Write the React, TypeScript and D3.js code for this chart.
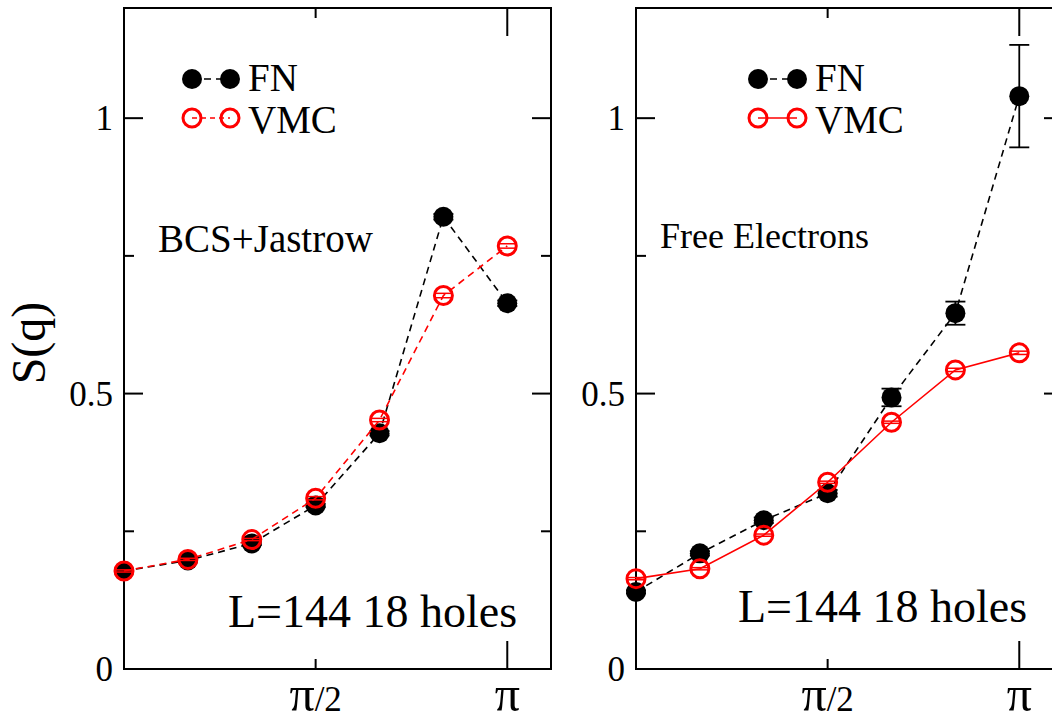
import React from 'react';
import * as d3 from 'd3';

// q points (0 .. pi in steps of pi/6)
const qValues = [0, 0.5236, 1.0472, 1.5708, 2.0944, 2.618, 3.1416];

// BCS+Jastrow panel
const bcsFN = [0.178, 0.197, 0.228, 0.297, 0.428, 0.821, 0.664];
const bcsFNErr = [0.002, 0.002, 0.003, 0.003, 0.004, 0.005, 0.005];
const bcsVMC = [0.178, 0.199, 0.235, 0.31, 0.452, 0.678, 0.768];
const bcsVMCErr = [0.002, 0.002, 0.002, 0.003, 0.003, 0.004, 0.004];

// Free electrons panel
const freeFN = [0.14, 0.21, 0.27, 0.319, 0.493, 0.646, 1.04];
const freeFNErr = [0.003, 0.004, 0.005, 0.006, 0.016, 0.021, 0.093];
const freeVMC = [0.164, 0.182, 0.243, 0.339, 0.448, 0.543, 0.574];
const freeVMCErr = [0.002, 0.002, 0.002, 0.002, 0.002, 0.003, 0.003];

const yMajor = [0, 0.5, 1];
const yMinor = [0.25, 0.75];
const yLabels = ['0', '0.5', '1'];
const xMajor = [Math.PI];
const xMinor = [Math.PI / 2];
const xLabels = [
  { q: Math.PI / 2, pi: 'π', rest: '/2' },
  { q: Math.PI, pi: 'π', rest: '' },
];

const FONT = "'Liberation Serif', 'Times New Roman', Times, serif";
const TOP = 8;
const BOTTOM = 669;
const PW = 427;

const y = d3.scaleLinear().domain([0, 1.2]).range([BOTTOM, TOP]);

const Panel = ({ left, title, titleX, titleY, titleSize, fn, fnErr, vmc, vmcErr, vmcDash, legendX, noteX, noteY }) => {
  const x = d3.scaleLinear().domain([0, 3.5]).range([left, left + PW]);
  const line = d3
    .line<number>()
    .x((d, i) => x(qValues[i]))
    .y(d => y(d));
  const right = left + PW;
  const stroke = { stroke: '#000', strokeWidth: 2 };

  return (
    <g>
      {/* frame */}
      <rect x={left} y={TOP} width={PW} height={BOTTOM - TOP} fill="none" {...stroke} />
      {/* y ticks, both sides */}
      {yMajor.map(v => (
        <g key={'ym' + v}>
          <line x1={left} x2={left + 19} y1={y(v)} y2={y(v)} {...stroke} />
          <line x1={right} x2={right - 19} y1={y(v)} y2={y(v)} {...stroke} />
        </g>
      ))}
      {yMinor.map(v => (
        <g key={'yn' + v}>
          <line x1={left} x2={left + 10} y1={y(v)} y2={y(v)} {...stroke} />
          <line x1={right} x2={right - 10} y1={y(v)} y2={y(v)} {...stroke} />
        </g>
      ))}
      {yMajor.map((v, i) => (
        <text key={'yl' + v} x={left - 11} y={y(v) + 12} textAnchor="end" fontSize={35}>
          {yLabels[i]}
        </text>
      ))}
      {/* x ticks, both sides */}
      {xMajor.map(v => (
        <g key={'xm' + v}>
          <line x1={x(v)} x2={x(v)} y1={BOTTOM} y2={BOTTOM - 28} {...stroke} />
          <line x1={x(v)} x2={x(v)} y1={TOP} y2={TOP + 28} {...stroke} />
        </g>
      ))}
      {xMinor.map(v => (
        <g key={'xn' + v}>
          <line x1={x(v)} x2={x(v)} y1={BOTTOM} y2={BOTTOM - 10} {...stroke} />
          <line x1={x(v)} x2={x(v)} y1={TOP} y2={TOP + 10} {...stroke} />
        </g>
      ))}
      {xLabels.map(l => (
        <text key={'xl' + l.q} x={x(l.q)} y={711} textAnchor="middle" fontSize={35}>
          <tspan fontSize={50}>{l.pi}</tspan>
          {l.rest}
        </text>
      ))}

      {/* FN */}
      <path d={line(fn) || ''} fill="none" stroke="#000" strokeWidth={1.6} strokeDasharray="7,5" />
      {fn.map((v, i) => (
        <g key={'fe' + i} stroke="#000" strokeWidth={1.8}>
          <line x1={x(qValues[i])} x2={x(qValues[i])} y1={y(v - fnErr[i])} y2={y(v + fnErr[i])} />
          <line x1={x(qValues[i]) - 10} x2={x(qValues[i]) + 10} y1={y(v - fnErr[i])} y2={y(v - fnErr[i])} />
          <line x1={x(qValues[i]) - 10} x2={x(qValues[i]) + 10} y1={y(v + fnErr[i])} y2={y(v + fnErr[i])} />
        </g>
      ))}
      {fn.map((v, i) => (
        <circle key={'fc' + i} cx={x(qValues[i])} cy={y(v)} r={10} fill="#000" />
      ))}

      {/* VMC */}
      <path d={line(vmc) || ''} fill="none" stroke="#f00" strokeWidth={1.6} strokeDasharray={vmcDash ? '7,5' : undefined} />
      {vmc.map((v, i) => (
        <g key={'vc' + i} stroke="#f00">
          <circle cx={x(qValues[i])} cy={y(v)} r={9} fill="none" strokeWidth={3} />
          <line x1={x(qValues[i]) - 9} x2={x(qValues[i]) + 9} y1={y(v - vmcErr[i])} y2={y(v - vmcErr[i])} strokeWidth={1.5} />
          <line x1={x(qValues[i]) - 9} x2={x(qValues[i]) + 9} y1={y(v + vmcErr[i])} y2={y(v + vmcErr[i])} strokeWidth={1.5} />
        </g>
      ))}

      {/* legend */}
      <line x1={legendX[0]} x2={legendX[1]} y1={79} y2={79} stroke="#000" strokeWidth={1.6} strokeDasharray="7,5" />
      <circle cx={legendX[0]} cy={79} r={10} fill="#000" />
      <circle cx={legendX[1]} cy={79} r={10} fill="#000" />
      <text x={legendX[1] + 18} y={91} fontSize={39}>FN</text>
      <line x1={legendX[0]} x2={legendX[1]} y1={118} y2={118} stroke="#f00" strokeWidth={1.6} strokeDasharray={vmcDash ? '5,4' : undefined} />
      <circle cx={legendX[0]} cy={118} r={9} fill="none" stroke="#f00" strokeWidth={3} />
      <circle cx={legendX[1]} cy={118} r={9} fill="none" stroke="#f00" strokeWidth={3} />
      <text x={legendX[1] + 18} y={133} fontSize={39}>VMC</text>

      <text x={titleX} y={titleY} fontSize={titleSize}>{title}</text>
      <text x={noteX} y={noteY} fontSize={46}>L=144 18 holes</text>
    </g>
  );
};

const App = () => (
  <svg
    width={1052}
    height={721}
    style={{ position: 'fixed', left: 0, top: 0, background: '#fff', fontFamily: FONT }}
  >
    <rect width={1052} height={721} fill="#fff" />
    <text transform="translate(45,343) rotate(-90)" textAnchor="middle" fontSize={48}>
      S(q)
    </text>
    <Panel
      left={124}
      title="BCS+Jastrow"
      titleX={158}
      titleY={252}
      titleSize={39}
      fn={bcsFN}
      fnErr={bcsFNErr}
      vmc={bcsVMC}
      vmcErr={bcsVMCErr}
      vmcDash={true}
      legendX={[192, 230]}
      noteX={228}
      noteY={627}
    />
    <Panel
      left={636}
      title="Free Electrons"
      titleX={660}
      titleY={248}
      titleSize={36}
      fn={freeFN}
      fnErr={freeFNErr}
      vmc={freeVMC}
      vmcErr={freeVMCErr}
      vmcDash={false}
      legendX={[758, 797]}
      noteX={738}
      noteY={622}
    />
  </svg>
);

export default App;
